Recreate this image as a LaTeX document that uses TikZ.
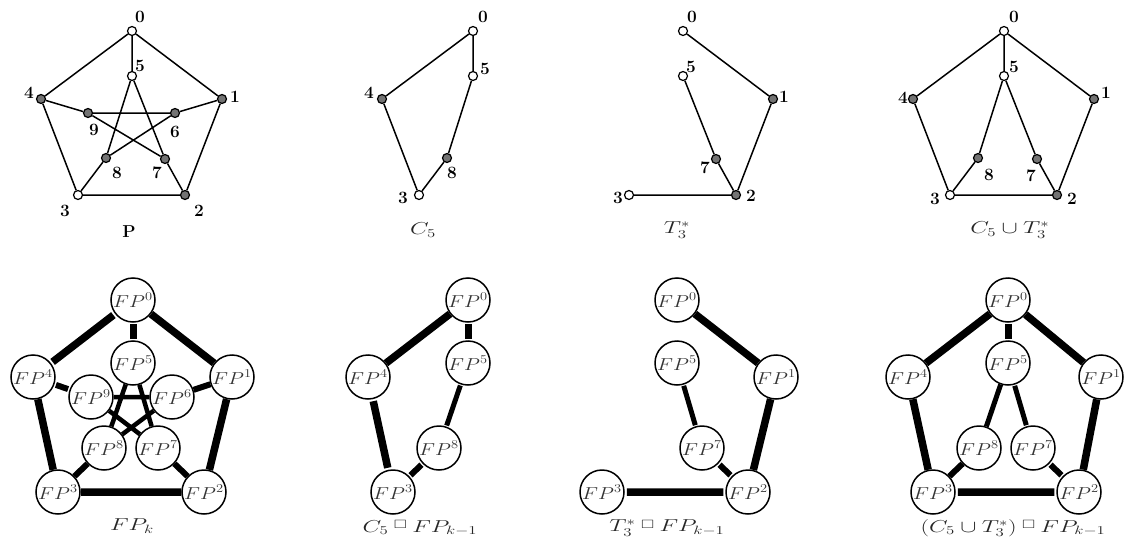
\documentclass[tikz,border=0pt]{standalone}
\usepackage{amssymb}
\usepackage{graphicx}
% horizontally widened math, and the box product operator
\newcommand\wide[2][1.4]{\scalebox{#1}[1]{#2}}
\newcommand\cprod{\mathbin{\raisebox{3.5pt}{$\scriptstyle\square$}}}
\newcommand\fpn[1]{\wide[1.2]{$FP^{#1}$}}
\tikzset{
  numlab/.style={font=\fontsize{17.28}{18}\selectfont\bfseries, inner sep=0pt},
  lab/.style n args={3}{label={[numlab, xshift=#1pt, yshift={-1*(#2)}]center:#3}},
  vopen/.style={circle, draw, fill=white, line width=1.2pt, inner sep=0pt, minimum size=9pt},
  vfull/.style={vopen, fill=black!55},
  thin/.style={line width=1.5pt},
  fp/.style={circle, draw, fill=white, line width=1.5pt, inner sep=0pt, minimum size=44pt,
             text=black!80, font=\fontsize{17.28}{18}\selectfont},
  rimbar/.style={line width=7.5pt, shorten <=2pt, shorten >=2pt},
  hubbar/.style={line width=7pt, shorten <=1pt, shorten >=1pt},
  spokebar/.style={line width=6pt, shorten <=1.5pt, shorten >=1.5pt},
  innerbar/.style={line width=5pt, shorten <=1pt, shorten >=1pt},
  starbar/.style={line width=4.5pt},
  capt/.style={font=\fontsize{17.28}{18}\selectfont, text=black!85, inner sep=0pt},
}
\begin{document}
\begin{tikzpicture}[x=1pt, y=-1pt]
\useasboundingbox (0,0) rectangle (1125,546);

% ---------- top row: the Petersen graph and its subgraphs ----------
% P
\node[vopen, lab={8}{-14}{0}]  (a0) at (132,31) {};
\node[vfull, lab={13}{-2}{1}]  (a1) at (222,99) {};
\node[vfull, lab={14}{16}{2}]  (a2) at (185,195) {};
\node[vopen, lab={-13}{16}{3}] (a3) at (78,195) {};
\node[vfull, lab={-12}{-6}{4}] (a4) at (41,99) {};
\node[vopen, lab={8}{-10}{5}]  (a5) at (132,76) {};
\node[vfull, lab={0}{19}{6}]   (a6) at (175,113) {};
\node[vfull, lab={-8}{14}{7}]  (a7) at (165,159) {};
\node[vfull, lab={11}{15}{8}]  (a8) at (106,158) {};
\node[vfull, lab={6}{17}{9}]   (a9) at (88,113) {};
\draw[thin] (a0)--(a1) (a1)--(a2) (a2)--(a3) (a3)--(a4) (a4)--(a0)
            (a0)--(a5) (a1)--(a6) (a2)--(a7) (a3)--(a8) (a4)--(a9)
            (a5)--(a7) (a7)--(a9) (a9)--(a6) (a6)--(a8) (a8)--(a5);
\node[capt, text=black] (capP) at (129,232) {\textbf{P}};

% C5
\begin{scope}[xshift=341pt]
\node[vopen, lab={10}{-14}{0}] (b0) at (132,31) {};
\node[vopen, lab={12}{-7}{5}]  (b5) at (132,76) {};
\node[vfull, lab={-13}{-6}{4}] (b4) at (41,99) {};
\node[vfull, lab={5}{15}{8}]   (b8) at (106,158) {};
\node[vopen, lab={-16}{3}{3}]  (b3) at (78,195) {};
\draw[thin] (b0)--(b5) (b5)--(b8) (b8)--(b3) (b3)--(b4) (b4)--(b0);
\node[capt] (capC) at (82,230) {\wide{$C_5$}};
\end{scope}

% T3*
\begin{scope}[xshift=551pt]
\node[vopen, lab={9}{-14}{0}]  (c0) at (132,31) {};
\node[vopen, lab={8}{-9}{5}]   (c5) at (132,76) {};
\node[vfull, lab={11}{-2}{1}]  (c1) at (222,99) {};
\node[vfull, lab={-11}{9}{7}]  (c7) at (165,159) {};
\node[vfull, lab={15}{1}{2}]   (c2) at (185,195) {};
\node[vopen, lab={-11}{3}{3}]  (c3) at (78,195) {};
\draw[thin] (c0)--(c1) (c1)--(c2) (c2)--(c3) (c2)--(c7) (c7)--(c5);
\node[capt] (capT) at (126,230) {\wide{$T_3^*$}};
\end{scope}

% C5 u T3*
\begin{scope}[xshift=872pt]
\node[vopen, lab={10}{-14}{0}] (d0) at (132,31) {};
\node[vopen, lab={10}{-9}{5}]  (d5) at (132,76) {};
\node[vfull, lab={-10}{-1}{4}] (d4) at (41,99) {};
\node[vfull, lab={12}{-6}{1}]  (d1) at (222,99) {};
\node[vfull, lab={11}{17}{8}]  (d8) at (106,158) {};
\node[vfull, lab={-6}{17}{7}]  (d7) at (165,159) {};
\node[vopen, lab={-15}{4}{3}]  (d3) at (78,195) {};
\node[vfull, lab={15}{4}{2}]   (d2) at (185,195) {};
\draw[thin] (d0)--(d4) (d0)--(d5) (d0)--(d1) (d4)--(d3) (d1)--(d2) (d3)--(d2)
            (d5)--(d8) (d8)--(d3) (d5)--(d7) (d7)--(d2);
\node[capt] (capU) at (138,230) {\wide{$C_5\cup T_3^*$}};
\end{scope}

% ---------- bottom row: the graphs built from copies of FP ----------
% FP_k
\node[fp] (e0) at (133,300) {\fpn{0}};
\node[fp] (e1) at (232,377) {\fpn{1}};
\node[fp] (e2) at (204,492) {\fpn{2}};
\node[fp] (e3) at (58,492)  {\fpn{3}};
\node[fp] (e4) at (33,377)  {\fpn{4}};
\node[fp] (e5) at (133,363) {\fpn{5}};
\node[fp] (e6) at (172,397) {\fpn{6}};
\node[fp] (e7) at (158,448) {\fpn{7}};
\node[fp] (e8) at (104,448) {\fpn{8}};
\node[fp] (e9) at (91,397)  {\fpn{9}};
\draw[rimbar] (e0)--(e1) (e1)--(e2) (e2)--(e3) (e3)--(e4) (e4)--(e0);
\draw[hubbar] (e0)--(e5);
\draw[spokebar] (e1)--(e6) (e2)--(e7) (e3)--(e8) (e4)--(e9);
\draw[starbar] (e5)--(e7) (e7)--(e9) (e9)--(e6) (e6)--(e8) (e8)--(e5);
\node[capt] (capFP) at (132,526) {\wide{$FP_k$}};

% C5 x FP_{k-1}
\begin{scope}[xshift=335pt]
\node[fp] (f0) at (133,300) {\fpn{0}};
\node[fp] (f5) at (133,363) {\fpn{5}};
\node[fp] (f4) at (33,377)  {\fpn{4}};
\node[fp] (f8) at (104,448) {\fpn{8}};
\node[fp] (f3) at (58,492)  {\fpn{3}};
\draw[rimbar] (f0)--(f4) (f4)--(f3);
\draw[hubbar] (f0)--(f5);
\draw[innerbar] (f5)--(f8);
\draw[spokebar] (f8)--(f3);
\node[capt] (capCP) at (85,528) {\wide{$C_5\cprod FP_{k-1}$}};
\end{scope}

% T3* x FP_{k-1}
\begin{scope}[xshift=544pt]
\node[fp] (g0) at (133,300) {\fpn{0}};
\node[fp] (g5) at (133,363) {\fpn{5}};
\node[fp] (g1) at (232,377) {\fpn{1}};
\node[fp] (g7) at (158,448) {\fpn{7}};
\node[fp] (g2) at (204,492) {\fpn{2}};
\node[fp] (g3) at (58,492)  {\fpn{3}};
\draw[rimbar] (g0)--(g1) (g1)--(g2) (g2)--(g3);
\draw[spokebar] (g2)--(g7);
\draw[innerbar] (g7)--(g5);
\node[capt] (capTP) at (123,528) {\wide{$T_3^*\cprod FP_{k-1}$}};
\end{scope}

% (C5 u T3*) x FP_{k-1}
\begin{scope}[xshift=875pt]
\node[fp] (h0) at (133,300) {\fpn{0}};
\node[fp] (h5) at (133,363) {\fpn{5}};
\node[fp] (h4) at (33,377)  {\fpn{4}};
\node[fp] (h1) at (226,377) {\fpn{1}};
\node[fp] (h8) at (104,448) {\fpn{8}};
\node[fp] (h7) at (158,448) {\fpn{7}};
\node[fp] (h3) at (58,492)  {\fpn{3}};
\node[fp] (h2) at (204,492) {\fpn{2}};
\draw[rimbar] (h0)--(h4) (h0)--(h1) (h4)--(h3) (h1)--(h2) (h3)--(h2);
\draw[hubbar] (h0)--(h5);
\draw[innerbar] (h5)--(h8) (h5)--(h7);
\draw[spokebar] (h8)--(h3) (h7)--(h2);
\node[capt] (capUP) at (138,528) {\wide{$(C_5\cup T_3^*)\cprod FP_{k-1}$}};
\end{scope}
\end{tikzpicture}
\end{document}
